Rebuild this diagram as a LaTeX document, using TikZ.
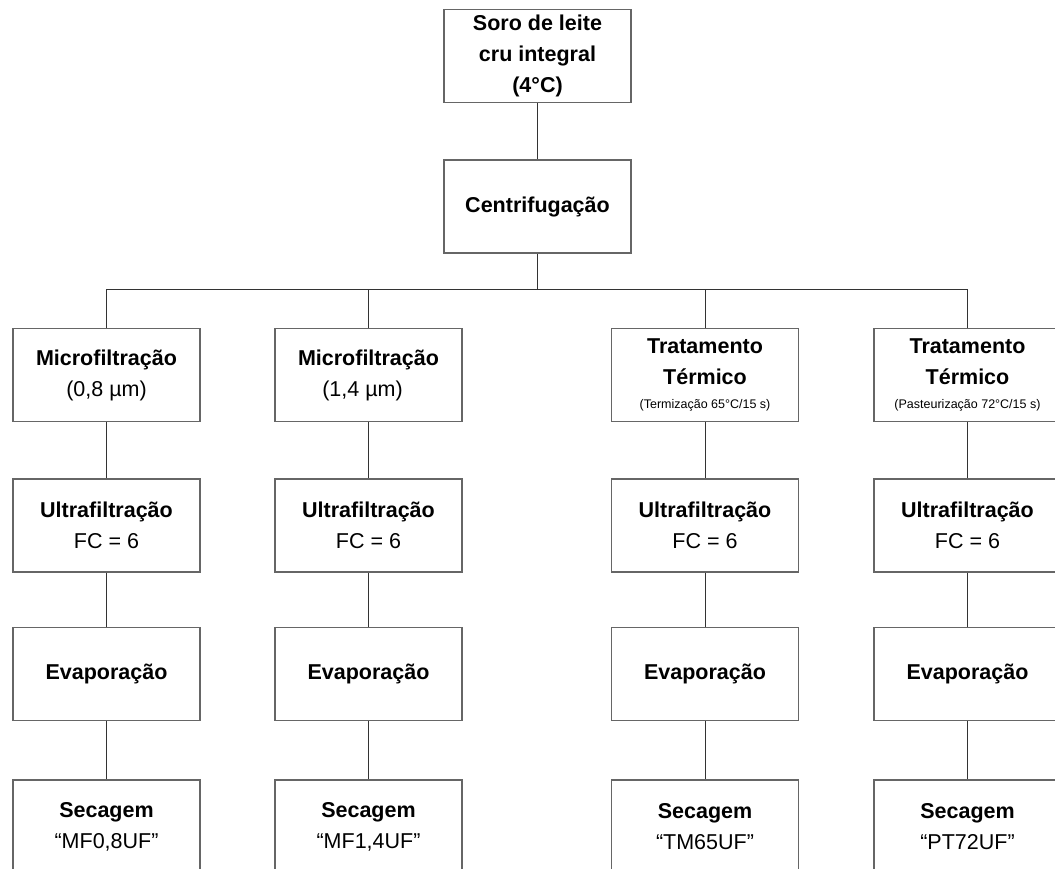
\documentclass[tikz,border=0pt]{standalone}
\usepackage{fontspec}
\setmainfont{Liberation Sans}
\begin{document}
\begin{tikzpicture}[x=1pt,y=-1pt,
  stepbox/.style={draw=black!60, line width=1.1pt, fill=white, rectangle,
    minimum width=187pt, minimum height=93pt, inner sep=0pt, align=center,
    font=\fontsize{21.5}{31}\selectfont},
  link/.style={draw=black!80, line width=0.9pt}]
\useasboundingbox (0,0) rectangle (1055,868);
\clip (0,0) rectangle (1055,868);

% top of the process
\node[stepbox] (soro) at (537.5,56) {\textbf{Soro de leite}\\\textbf{cru integral}\\\textbf{(4°C)}};
\node[stepbox] (centr) at (537.5,206.5) {\textbf{Centrifugação}};
\coordinate (bus) at (537.5,289);

% column 1
\node[stepbox] (m1) at (106.5,375) {\textbf{Microfiltração}\\(0,8 µm)};
\node[stepbox] (u1) at (106.5,525.5) {\textbf{Ultrafiltração}\\FC = 6};
\node[stepbox] (e1) at (106.5,674) {\textbf{Evaporação}};
\node[stepbox] (s1) at (106.5,826.5) {\textbf{Secagem}\\“MF0,8UF”};

% column 2
\node[stepbox] (m2) at (368.5,375) {\textbf{Microfiltração}\\\hspace*{-12pt}(1,4 µm)};
\node[stepbox] (u2) at (368.5,525.5) {\textbf{Ultrafiltração}\\FC = 6};
\node[stepbox] (e2) at (368.5,674) {\textbf{Evaporação}};
\node[stepbox] (s2) at (368.5,826.5) {\textbf{Secagem}\\“MF1,4UF”};

% column 3
\node[stepbox] (t3) at (705,375) {\textbf{Tratamento}\\\textbf{Térmico}\\[-7pt]{\fontsize{12.5}{14}\selectfont (Termização 65°C/15 s)}};
\node[stepbox] (u3) at (705,525.5) {\textbf{Ultrafiltração}\\FC = 6};
\node[stepbox] (e3) at (705,674) {\textbf{Evaporação}};
\node[stepbox] (s3) at (705,826.5) {\textbf{Secagem}\\“TM65UF”};

% column 4
\node[stepbox] (t4) at (967.5,375) {\textbf{Tratamento}\\\textbf{Térmico}\\[-7pt]{\fontsize{12.5}{14}\selectfont (Pasteurização 72°C/15 s)}};
\node[stepbox] (u4) at (967.5,525.5) {\textbf{Ultrafiltração}\\FC = 6};
\node[stepbox] (e4) at (967.5,674) {\textbf{Evaporação}};
\node[stepbox] (s4) at (967.5,826.5) {\textbf{Secagem}\\“PT72UF”};

% connectors
\draw[link] (soro) -- (centr);
\draw[link] (centr) -- (bus);
\draw[link] (m1.north) -- (m1.north |- bus) -- (t4.north |- bus) -- (t4.north);
\draw[link] (m2.north) -- (m2.north |- bus);
\draw[link] (t3.north) -- (t3.north |- bus);
\foreach \c/\t in {m1/u1,u1/e1,e1/s1,m2/u2,u2/e2,e2/s2,t3/u3,u3/e3,e3/s3,t4/u4,u4/e4,e4/s4}
  \draw[link] (\c) -- (\t);
\end{tikzpicture}
\end{document}
